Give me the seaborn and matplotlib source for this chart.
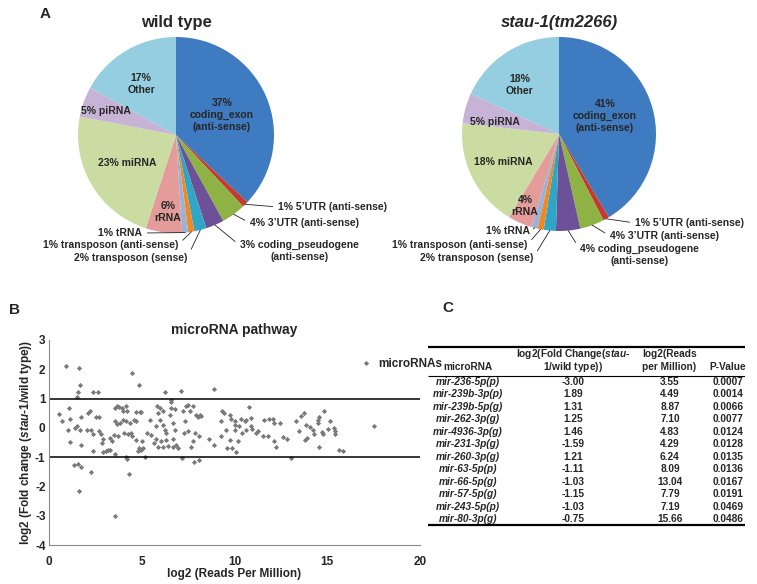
import numpy as np
import pandas as pd
import matplotlib
matplotlib.use("Agg")
import matplotlib.pyplot as plt
import seaborn as sns

# --- panel A: read category composition (%) ---
categories = ["coding_exon", "5'UTR", "3'UTR", "coding_pseudogene", "transposon (sense)",
              "transposon (anti-sense)", "tRNA", "rRNA", "miRNA", "piRNA", "Other"]
wt_pct = [37, 1, 4, 3, 2, 1, 1, 6, 23, 5, 17]
stau_pct = [41, 1, 4, 4, 2, 1, 1, 4, 18, 5, 18]
label_fmt = ["{}%\ncoding_exon\n(anti-sense)", "{}% 5\u2019UTR (anti-sense)", "{}% 3\u2019UTR (anti-sense)",
             "{}% coding_pseudogene\n(anti-sense)", "{}% transposon (sense)", "{}% transposon (anti-sense)",
             "{}% tRNA", "{}%\nrRNA", "{}% miRNA", "{}% piRNA", "{}%\nOther"]
pie_colors = ["#3F7BC1", "#C43A2F", "#8EB244", "#6C5199", "#2FA6C7", "#F0891F",
              "#9AB2D8", "#E49C9A", "#CBDCA2", "#C7B3D6", "#94CEE0"]

# --- panel B: microRNA scatter ---
read_x = [0.56, 0.68, 0.90, 1.09, 1.13, 1.04, 1.13, 1.34, 1.40, 1.49, 1.60, 1.58, 1.52, 1.67, 1.72,
          1.67, 1.70, 1.58, 1.70, 1.63,
          2.11, 2.20, 2.06, 2.29, 2.38, 2.35, 2.26, 2.38, 2.65, 2.53, 2.70, 2.70, 2.83, 2.92, 2.88,
          2.92, 3.06, 3.19, 3.31, 3.28, 3.37, 3.55, 3.55, 3.64, 3.78, 3.55, 3.67, 3.82, 3.49, 3.73,
          3.99, 4.03, 3.91, 3.99, 3.55,
          4.17, 4.21, 4.17, 4.35, 4.26, 4.44, 4.14, 4.21, 4.29, 4.49, 4.83, 4.71, 4.89, 4.98, 4.57,
          4.71, 4.50, 4.71, 4.84, 4.80, 4.98, 5.07, 5.02, 5.16, 5.43, 5.29, 5.52, 5.82, 5.97, 5.88,
          5.79, 5.79, 5.88, 5.66,
          6.15, 6.00, 6.15, 6.24, 6.33, 6.33, 6.06, 6.15, 6.41, 6.50, 6.56, 6.59, 6.59, 6.77, 6.68,
          6.77, 6.68, 6.86, 6.68, 6.95, 7.19, 7.22, 7.36, 7.49, 7.58, 7.76, 7.31, 7.26, 7.49, 7.67,
          7.76, 7.85, 7.94, 6.24, 7.10,
          8.12, 8.21, 8.03, 8.08, 7.79, 8.09, 8.62, 8.87, 8.87, 9.34, 9.41, 9.28, 9.25, 9.52, 9.59,
          9.77, 9.82, 9.87, 9.77,
          10.00, 10.00, 10.05, 10.09, 10.36, 10.54, 10.41, 10.63, 10.80, 10.89, 10.63, 10.89, 11.16,
          11.25, 11.52, 11.61, 11.88, 11.79, 12.06, 12.15, 12.24, 12.15, 12.44, 12.59, 12.84, 13.04,
          10.25, 10.20, 10.95,
          13.32, 13.59, 13.73, 13.50, 13.86, 14.09, 14.22, 13.91, 13.82, 14.30, 14.48, 14.57, 14.52,
          14.81, 14.72, 14.75, 15.02, 15.17, 15.38, 15.43, 15.43, 14.57, 15.66, 15.85, 17.50]
fold_y = [0.48, 0.22, 2.12, 0.67, 0.30, -0.09, -0.48, -1.26, 0.01, 0.05, 2.03, 1.24, 1.07, 1.47, 0.37,
          -0.09, -0.59, -1.24, -1.32, -2.15,
          0.50, 0.56, -0.09, -0.09, -0.21, -0.78, -1.52, 1.24, 1.21, 0.37, 0.37, -0.12, -0.20, -0.38, -0.50,
          -0.84, -0.78, -0.77, -0.77, -0.35, -0.44, -0.89, 0.67, 0.73, 0.71, 0.22, 0.14, 0.18, -0.24, -0.29,
          0.28, -0.18, 0.67, 0.56, -3.00,
          0.73, 0.56, 0.22, 0.16, -0.21, -0.18, -0.98, -1.07, -1.59, 1.89, 1.46, 0.53, 0.53, 0.53, 0.28,
          0.22, -0.29, -0.43, -0.69, -0.78, -0.77, -0.69, -0.46, -1.00, 0.28, -0.18, -0.24, 0.75, 0.67, 0.50,
          0.05, -0.39, -0.66, -0.52,
          0.56, 0.28, 0.10, -0.07, -0.18, -0.43, -0.46, -0.64, -0.61, 0.45, 0.96, 0.87, 0.67, 0.64, 0.16,
          -0.07, -0.39, -0.58, -0.64, -0.69, -1.03, 0.56, 0.73, 0.79, 0.56, 0.75, 0.22, -0.16, -0.12, -0.64,
          -0.44, -0.18, 0.45, 1.21, 1.25,
          0.45, 0.39, 0.37, -0.29, -1.15, -1.11, -0.39, -0.59, 1.31, 0.56, 0.50, 0.22, -0.29, -0.07, -0.69,
          0.45, 0.30, -0.69, -0.41,
          0.22, 0.10, -0.07, -0.81, 0.30, 0.22, -0.18, -0.07, 0.71, 0.33, 0.28, 0.05, -0.16,
          -0.12, -0.29, 0.28, 0.30, -0.29, 0.30, 0.16, -0.64, -0.46, 0.16, -0.30, -0.39, -1.03,
          0.05, -0.45, -0.05,
          0.24, 0.39, 0.50, -0.10, 0.10, 0.03, -0.07, -0.35, -0.43, -0.21, 0.27, 0.36, 0.16,
          0.58, -0.13, -0.21, -0.05, 0.22, 0.01, -0.10, -0.21, -0.64, -0.75, -0.80, 0.07]

# --- panel C: table ---
table_mirna = ["mir-236-5p(p)", "mir-239b-3p(p)", "mir-239b-5p(g)", "mir-262-3p(g)", "mir-4936-3p(g)",
               "mir-231-3p(g)", "mir-260-3p(g)", "mir-63-5p(p)", "mir-66-5p(g)", "mir-57-5p(g)",
               "mir-243-5p(p)", "mir-80-3p(g)"]
table_fc = [-3.00, 1.89, 1.31, 1.25, 1.46, -1.59, 1.21, -1.11, -1.03, -1.15, -1.03, -0.75]
table_reads = [3.55, 4.49, 8.87, 7.10, 4.83, 4.29, 6.24, 8.09, 13.04, 7.79, 7.19, 15.66]
table_p = [0.0007, 0.0014, 0.0066, 0.0077, 0.0124, 0.0128, 0.0135, 0.0136, 0.0167, 0.0191, 0.0469, 0.0486]

sns.set_style("white")
plt.rcParams["font.family"] = ["Liberation Sans", "DejaVu Sans"]
plt.rcParams["font.weight"] = "bold"
plt.rcParams["axes.labelweight"] = "bold"
plt.rcParams["axes.titleweight"] = "bold"
plt.rcParams["axes.unicode_minus"] = False
plt.rcParams["mathtext.fontset"] = "custom"
plt.rcParams["mathtext.it"] = "Liberation Sans:italic:bold"
plt.rcParams["mathtext.rm"] = "Liberation Sans:bold"
plt.rcParams["mathtext.bf"] = "Liberation Sans:bold"

W, H = 757, 584
fig = plt.figure(figsize=(W / 100, H / 100), dpi=100)


def px(x, y):
    # pixel position (from top-left) -> figure fraction
    return x / W, 1 - y / H


def draw_pie(cx, cy, r, values, title, positions, italic=False):
    ax = fig.add_axes([(cx - r) / W, 1 - (cy + r) / H, 2 * r / W, 2 * r / H])
    wedges, _ = ax.pie(values, colors=pie_colors, startangle=90, counterclock=False,
                       wedgeprops=dict(linewidth=0))
    ax.set_xlim(-1, 1)
    ax.set_ylim(-1, 1)
    fig.text(*px(cx, 22), title, ha="center", va="center", fontsize=12,
             style="italic" if italic else "normal")
    for w, v, fmt, (tx, ty, kind) in zip(wedges, values, label_fmt, positions):
        txt = fmt.format(v)
        if kind == "in":
            fig.text(*px(tx, ty), txt, ha="center", va="center", fontsize=7.5, linespacing=1.3)
            continue
        ang = np.deg2rad((w.theta1 + w.theta2) / 2)
        ha = "left" if kind == "L" else "right"
        rel = (0 if kind == "L" else 1, 0.75 if "\n" in txt else 0.5)
        ax.annotate(txt, xy=(np.cos(ang), np.sin(ang)), xycoords="data",
                    xytext=px(tx, ty), textcoords="figure fraction",
                    ha=ha, va="center", fontsize=7.5, multialignment="center", annotation_clip=False,
                    arrowprops=dict(arrowstyle="-", color="#222222", lw=0.6, relpos=rel,
                                    shrinkA=1.5, shrinkB=0))


wt_pos = [(222, 115, "in"), (278, 207, "L"), (250, 223, "L"), (240, 251, "L"), (187, 258, "R"),
          (178, 245, "R"), (142, 233, "R"), (168, 212, "in"), (127, 163, "in"), (106, 111, "in"),
          (141, 84, "in")]
stau_pos = [(605, 116, "in"), (635, 223, "L"), (610, 236, "L"), (580, 255, "L"), (533, 258, "R"),
            (527, 245, "R"), (530, 231, "R"), (525, 206, "in"), (503, 162, "in"), (495, 122, "in"),
            (520, 85, "in")]

draw_pie(176, 135, 98, wt_pct, "wild type", wt_pos)
draw_pie(559, 134, 97, stau_pct, "stau-1(tm2266)", stau_pos, italic=True)

# --- panel B ---
df = pd.DataFrame({"reads": read_x, "fold": fold_y})
axb = fig.add_axes([49 / W, 1 - 545 / H, 371 / W, 205 / H])
sns.scatterplot(data=df, x="reads", y="fold", ax=axb, color="#7A7A7A", marker="D", s=7,
                linewidth=0, label="microRNAs")
axb.axhline(1, color="black", lw=1.1)
axb.axhline(-1, color="black", lw=1.1)
axb.set_xlim(0, 20)
axb.set_ylim(-4, 3)
axb.set_xticks([0, 5, 10, 15, 20])
axb.set_yticks(range(-4, 4))
for s in ["top", "right"]:
    axb.spines[s].set_visible(False)
for s in ["left", "bottom"]:
    axb.spines[s].set_color("#8C8C8C")
    axb.spines[s].set_linewidth(0.8)
axb.tick_params(axis="y", direction="out", length=2, color="#8C8C8C", labelsize=8.5, pad=0.5)
axb.tick_params(axis="x", direction="in", length=3, color="#8C8C8C", labelsize=8.5, pad=8)
for t in axb.get_xticklabels() + axb.get_yticklabels():
    t.set_fontweight("bold")
axb.set_xlabel("log2 (Reads Per Million)", fontsize=8.5, labelpad=0)
axb.set_ylabel(r"log2 (Fold change ($\mathit{stau}$-$\mathit{1}$/wild type))", fontsize=8.5, labelpad=1)
axb.set_title("microRNA pathway", fontsize=10, pad=4)
axb.legend(loc="center left", bbox_to_anchor=(0.81, 0.885), frameon=False, handletextpad=0.0,
           borderaxespad=0, prop=dict(weight="bold", size=8.5), markerscale=1.0)

# --- panel C table ---
axc = fig.add_axes([428 / W, 1 - 530 / H, 317 / W, 190 / H])
axc.set_xlim(428, 745)
axc.set_ylim(530, 340)
axc.axis("off")
axc.hlines(347, 428, 745, color="black", lw=1.6)
axc.hlines(376, 428, 745, color="black", lw=0.8)
axc.hlines(525, 428, 745, color="black", lw=1.6)
col_x = [468, 573, 670, 728]
fs = 7.3
axc.text(col_x[0], 370, "microRNA", ha="center", va="baseline", fontsize=fs)
axc.text(col_x[1], 357, "log2(Fold Change($\\mathit{stau}$-", ha="center", va="baseline", fontsize=fs)
axc.text(col_x[1], 370, "$\\mathit{1}$/wild type))", ha="center", va="baseline", fontsize=fs)
axc.text(642, 357, "log2(Reads", ha="left", va="baseline", fontsize=fs)
axc.text(642, 370, "per Million)", ha="left", va="baseline", fontsize=fs)
axc.text(col_x[3], 370, "P-Value", ha="center", va="baseline", fontsize=fs)
for i, (m, f, r, p) in enumerate(zip(table_mirna, table_fc, table_reads, table_p)):
    y = 382 + i * 12.45
    axc.text(col_x[0], y, m, ha="center", va="center", fontsize=fs, style="italic")
    axc.text(col_x[1], y, f"{f:.2f}", ha="center", va="center", fontsize=fs)
    axc.text(col_x[2], y, f"{r:.2f}", ha="center", va="center", fontsize=fs)
    axc.text(col_x[3], y, f"{p:.4f}", ha="center", va="center", fontsize=fs)

# panel letters
fig.text(*px(45, 14), "A", ha="center", va="center", fontsize=11)
fig.text(*px(14, 310), "B", ha="center", va="center", fontsize=11)
fig.text(*px(448, 308), "C", ha="center", va="center", fontsize=11)

fig.savefig("out.png", dpi=100, facecolor="white")
